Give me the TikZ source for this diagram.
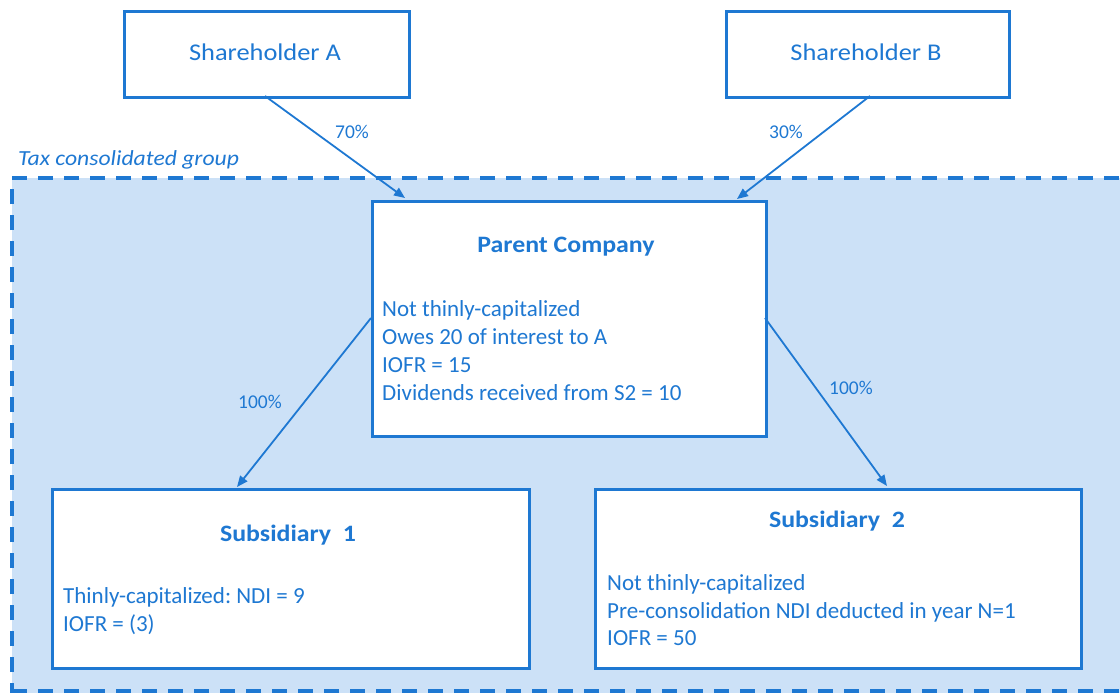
\documentclass[tikz,border=0pt]{standalone}
\usepackage{fontspec}
\setmainfont{Carlito}
\newfontfamily\widefont[FakeStretch=1.1]{Carlito}
\usetikzlibrary{arrows.meta}
\definecolor{mblue}{HTML}{1E78D2}
\definecolor{lblue}{HTML}{CCE1F7}
\frenchspacing
\begin{document}
\begin{tikzpicture}[x=1pt,y=-1pt,
  boxst/.style={draw=mblue,line width=3pt,fill=white},
  arr/.style={draw=mblue,line width=1.8pt,-{Triangle[length=11pt,width=9pt]}},
  lbl/.style={text=mblue,font=\fontsize{19.5}{22}\selectfont,inner sep=0pt},
  txt/.style={text=mblue,font=\fontsize{23}{28}\selectfont,inner sep=0pt,anchor=base west},
  ttl/.style={text=mblue,font=\widefont\fontsize{23.5}{28}\selectfont\bfseries,inner sep=0pt},
  bigt/.style={text=mblue,font=\widefont\fontsize{24}{28}\selectfont,inner sep=0pt}]
\useasboundingbox (0,0) rectangle (1120,693);
\fill[lblue] (12,178) rectangle (1125,698);
\draw[mblue,line width=3.5pt,dash pattern=on 15pt off 11pt] (12,698) -- (12,178) -- (1125,178);
\draw[mblue,line width=3.5pt,dash pattern=on 15pt off 11pt] (12,691) -- (1125,691);
\node[text=mblue,font=\widefont\fontsize{21.5}{24}\selectfont\itshape,anchor=west,inner sep=0pt] (grp) at (18,160) {Tax consolidated group};
% boxes
\node[boxst,minimum width=285pt,minimum height=86pt,anchor=north west] (sa) at (123,10) {};
\node[bigt] (sat) at (265,52) {Shareholder A};
\node[boxst,minimum width=283pt,minimum height=86pt,anchor=north west] (sb) at (725,10) {};
\node[bigt] (sbt) at (866,52) {Shareholder B};
\node[boxst,minimum width=394pt,minimum height=235pt,anchor=north west] (pc) at (371,200) {};
\node[ttl] (pct) at (566,247) {Parent Company};
\node[txt] (p1) at (382,316) {Not thinly-capitalized};
\node[txt] (p2) at (382,344) {Owes 20 of interest to A};
\node[txt] (p3) at (382,372) {IOFR = 15};
\node[txt] (p4) at (382,400) {Dividends received from S2 = 10};
\node[boxst,minimum width=477pt,minimum height=179pt,anchor=north west] (s1) at (51,488) {};
\node[ttl] (s1t) at (288,535) {Subsidiary\ \ 1};
\node[txt] (s11) at (63,603) {Thinly-capitalized: NDI = 9};
\node[txt] (s12) at (63,631) {IOFR = (3)};
\node[boxst,minimum width=486pt,minimum height=179pt,anchor=north west] (s2) at (594,488) {};
\node[ttl] (s2t) at (837,521) {Subsidiary\ \ 2};
\node[txt] (s21) at (607,590) {Not thinly-capitalized};
\node[txt] (s22) at (607,618) {Pre-consolidation NDI deducted in year N=1};
\node[txt] (s23) at (607,645) {IOFR = 50};
% connectors
\coordinate (a0) at (265,96);
\coordinate (a1) at (405,198);
\coordinate (b0) at (870,96);
\coordinate (b1) at (737,199);
\coordinate (c0) at (371,318);
\coordinate (c1) at (237,487);
\coordinate (d0) at (765,318);
\coordinate (d1) at (887,486);
\draw[arr] (a0) -- (a1);
\draw[arr] (b0) -- (b1);
\draw[arr] (c0) -- (c1);
\draw[arr] (d0) -- (d1);
\node[lbl] (l70) at (352,132) {70\%};
\node[lbl] (l30) at (786,132) {30\%};
\node[lbl] (l1) at (260,402) {100\%};
\node[lbl] (l2) at (851,388) {100\%};
\end{tikzpicture}
\end{document}
